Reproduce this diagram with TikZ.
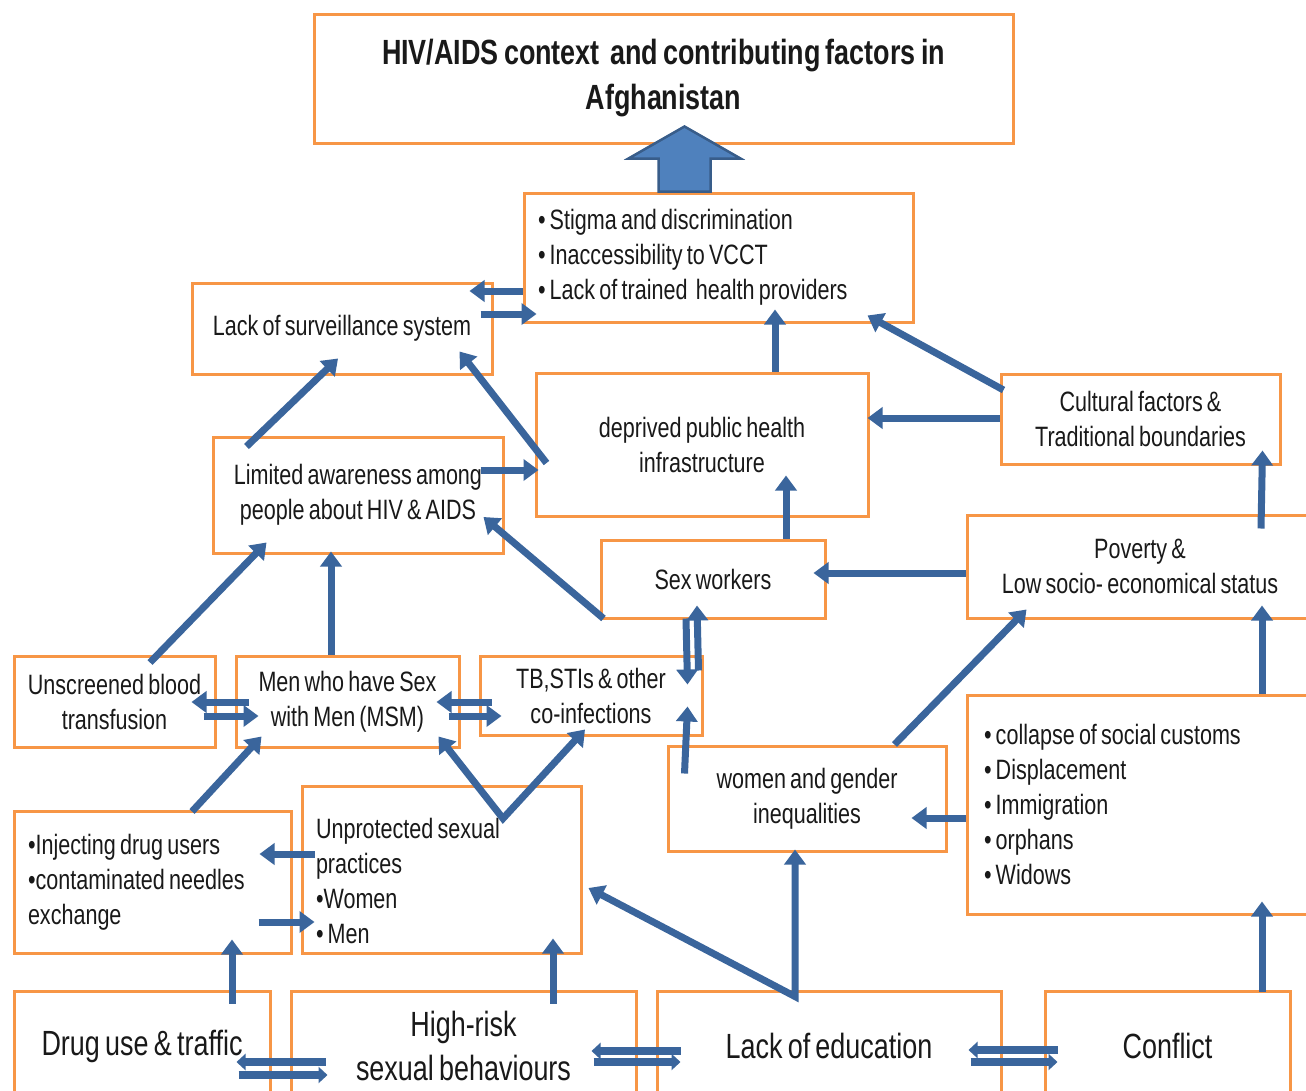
\documentclass[tikz,border=0pt]{standalone}
\usepackage{fontspec}
\setmainfont{Liberation Sans}[FakeStretch=0.77, WordSpace=0.7]
\usetikzlibrary{arrows.meta,calc}
\definecolor{boxorange}{HTML}{F79646}
\definecolor{flowblue}{HTML}{3A659C}
\definecolor{bigfill}{HTML}{4F81BD}
\definecolor{bigline}{HTML}{385D8A}
\tikzset{
  arrowhead/.tip={Triangle[length=15pt,width=21pt]},
  pairhead/.tip={Triangle[length=9pt,width=16pt]},
  box/.style={draw=boxorange, line width=3pt, inner sep=0pt, align=center, text=black!90, font=\fontsize{28}{35}\selectfont},
  listbox/.style={box, align=flush left},
  bigbox/.style={box, font=\fontsize{35}{44}\selectfont},
  flow/.style={draw=flowblue, line width=7pt, line join=miter, -arrowhead},
  pairflow/.style={draw=flowblue, line width=8pt, -pairhead},
  bigarrow/.style={fill=bigfill, draw=bigline, line width=2.5pt, line join=miter}
}
\begin{document}
\begin{tikzpicture}[x=1pt, y=-1pt]
\path[use as bounding box, fill=white] (0,0) rectangle (1306,1090);
\clip (0,0) rectangle (1306,1090);

\node[box, font=\bfseries\fontsize{35}{45}\selectfont, minimum width=699pt, minimum height=129pt] (title) at (663.5,78.5) {HIV/AIDS context\ \ and contributing factors in\\Afghanistan};
\node[listbox, text width=361pt, minimum width=389pt, minimum height=129pt] (stigma) at (718.5,257.5) {• Stigma and discrimination\\• Inaccessibility to VCCT\\• Lack of trained\ \ health providers};
\node[box, minimum width=300pt, minimum height=91pt] (surv) at (342,328.5) {Lack of surveillance system};
\node[box, minimum width=332pt, minimum height=143pt] (deprived) at (702,444.5) {deprived public health\\infrastructure};
\node[box, minimum width=279pt, minimum height=90pt] (cultural) at (1140.5,419) {Cultural factors \&\\Traditional boundaries};
\node[box, minimum width=290pt, minimum height=116pt] (aware) at (358,495) {Limited awareness among\\people about HIV \& AIDS};
\node[box, minimum width=224pt, minimum height=78pt] (sexw) at (713,579) {Sex workers};
\node[box, minimum width=346pt, minimum height=103pt] (poverty) at (1140,566.5) {Poverty \&\\Low socio- economical status};
\node[box, minimum width=201pt, minimum height=91pt] (blood) at (114.5,701.5) {Unscreened blood\\transfusion};
\node[box, minimum width=223pt, minimum height=91pt] (msm) at (347.5,701.5) {Men who have Sex\\with Men (MSM)};
\node[box, minimum width=222pt, minimum height=79pt] (tb) at (591,695.5) {TB,STIs \& other\\co-infections};
\node[box, minimum width=278pt, minimum height=105pt] (women) at (807,798.5) {women and gender\\inequalities};
\node[listbox, text width=312pt, minimum width=346pt, minimum height=219pt] (social) at (1140,804.5) {• collapse of social customs\\• Displacement\\• Immigration\\• orphans\\• Widows};
\node[listbox, text width=249pt, minimum width=277pt, minimum height=142pt] (idu) at (152.5,882) {•Injecting drug users\\•contaminated needles\\exchange};
\node[listbox, text width=251pt, minimum width=279pt, minimum height=167pt] (unprot) at (441.5,869.5) {\rule{0pt}{43pt}Unprotected sexual\\practices\\•Women\\• Men};
\node[bigbox, minimum width=256pt, minimum height=110pt] (drug) at (142,1046) {Drug use \& traffic};
\node[bigbox, minimum width=345pt, minimum height=110pt] (highrisk) at (463.5,1046) {High-risk\\sexual behaviours};
\node[bigbox, minimum width=344pt, minimum height=110pt] (edu) at (829,1046) {Lack of education};
\node[bigbox, minimum width=245pt, minimum height=110pt] (conflict) at (1167.5,1046) {Conflict};

\draw[bigarrow] ($(stigma.north west)+(136,0)$) -- ++(0,-33) -- ++(-30,0) -- ++(56,-32) -- ++(56,32) -- ++(-30,0) -- ++(0,33) -- cycle;

\draw[flow] ($(stigma.west)+(0,33.5)$) -- ($(surv.east)+(-24,-37.5)$);
\draw[flow] ($(surv.east)+(-13,-14.5)$) -- ($(stigma.west)+(14,56.5)$);
\draw[flow] ($(deprived.north)+(73,0)$) -- ($(stigma.south)+(56.5,-14)$);
\draw[flow] ($(cultural.west)+(4,-29)$) -- ($(stigma.south east)+(-47,-8)$);
\draw[flow] ($(cultural.west)+(0,-1)$) -- ($(deprived.east)+(-2,-26.5)$);
\draw[flow] ($(aware.north west)+(35,11)$) -- ($(surv.south)+(-4,-17)$);
\draw[flow] ($(deprived.west)+(12,18.5)$) -- ($(surv.south east)+(-34,-24)$);
\draw[flow] ($(aware.east)+(-24,-25)$) -- ($(deprived.west)+(4,25.5)$);
\draw[flow] ($(sexw.north)+(73,0)$) -- ($(deprived.south)+(84,-42)$);
\draw[flow] ($(sexw.south west)+(4,-1)$) -- ($(aware.east)+(-21,22)$);
\draw[flow] ($(poverty.west)+(0,6.5)$) -- ($(sexw.east)+(-13,-6)$);
\draw[flow] ($(poverty.north)+(121,15)$) -- ($(cultural.south east)+(-19,-15)$);
\draw[flow] ($(social.north)+(122,0)$) -- ($(poverty.south)+(122,-14)$);
\draw[flow] ($(sexw.south)+(-27,-1)$) -- ($(tb.north east)+(-16,30)$);
\draw[flow] ($(tb.north east)+(-5,16)$) -- ($(sexw.south)+(-16,-14)$);
\draw[flow] ($(women.north west)+(18,29)$) -- ($(tb.south east)+(-16,-30)$);
\draw[flow] ($(msm.north)+(-16.5,0)$) -- ($(aware.south)+(-27,-3)$);
\draw[flow] ($(blood.north)+(35.5,8)$) -- ($(aware.south west)+(55,-12)$);
\draw[flow] ($(msm.west)+(14,0.5)$) -- ($(blood.east)+(-25,0.5)$);
\draw[flow] ($(blood.east)+(-13,14.5)$) -- ($(msm.west)+(24,14.5)$);
\draw[flow] ($(tb.west)+(13,6.5)$) -- ($(msm.east)+(-24,0.5)$);
\draw[flow] ($(msm.east)+(-12,14.5)$) -- ($(tb.west)+(23,20.5)$);
\draw[flow] ($(idu.north)+(39.5,2)$) -- ($(msm.south west)+(27,-12)$);
\coordinate (vee) at ($(unprot.north)+(61.5,34)$);
\draw[flow, arrowhead-arrowhead] ($(msm.south east)+(-22,-12)$) -- (vee) -- ($(tb.south)+(-6,-7)$);
\draw[flow] ($(unprot.west)+(14,-15.5)$) -- ($(idu.east)+(-33,-28)$);
\draw[flow] ($(idu.east)+(-34,40)$) -- ($(unprot.west)+(14,52.5)$);
\draw[flow] ($(drug.north)+(90,14)$) -- ($(idu.south)+(79.5,-15)$);
\draw[flow] ($(highrisk.north)+(89.5,14)$) -- ($(unprot.south)+(111.5,-16)$);
\coordinate (fork) at ($(edu.north)+(-34,7)$);
\draw[flow, arrowhead-arrowhead] ($(unprot.east)+(6,18.5)$) -- (fork) -- ($(women.south)+(-12,-3)$);
\draw[flow] ($(women.north east)+(-53,0)$) -- ($(poverty.south west)+(61,-10)$);
\draw[flow] ($(social.west)+(0,13.5)$) -- ($(women.east)+(-36,19.5)$);
\draw[flow] ($(conflict.north)+(94.5,2)$) -- ($(social.south)+(122,-14)$);

\draw[pairflow] ($(highrisk.west)+(36,16)$) -- ($(drug.east)+(-35,16)$);
\draw[pairflow] ($(drug.east)+(-33,29)$) -- ($(highrisk.west)+(38,29)$);
\draw[pairflow] ($(edu.west)+(25,5)$) -- ($(highrisk.east)+(-46,5)$);
\draw[pairflow] ($(highrisk.east)+(-44,16)$) -- ($(edu.west)+(25,16)$);
\draw[pairflow] ($(conflict.west)+(14,4)$) -- ($(edu.east)+(-34,4)$);
\draw[pairflow] ($(edu.east)+(-32,16)$) -- ($(conflict.west)+(14,16)$);
\end{tikzpicture}
\end{document}
